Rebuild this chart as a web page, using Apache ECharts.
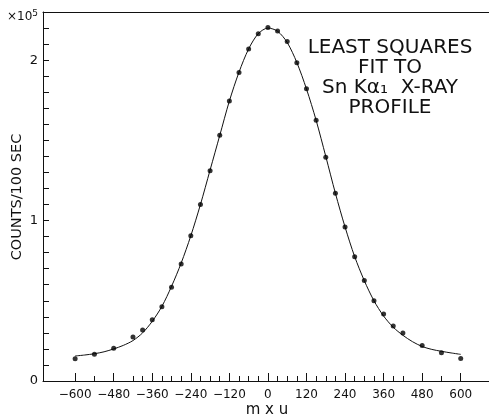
<!DOCTYPE html>
<html>
<head>
<meta charset="utf-8">
<script src="https://cdn.jsdelivr.net/npm/echarts@6/dist/echarts.min.js"></script>
<style>html,body{margin:0;padding:0;background:#fff;}#c{width:489px;height:416px;}</style>
</head>
<body>
<div id="c"></div>
<script>
// Measured points (counts/100 sec, units of 1e5) vs mxu
const pointX = [-600,-540,-480,-420,-390,-360,-330,-300,-270,-240,-210,-180,-150,-120,-90,-60,-30,0,30,60,90,120,150,180,210,240,270,300,330,360,390,420,480,540,600];
const pointY = [0.139,0.166,0.204,0.274,0.318,0.382,0.463,0.584,0.729,0.905,1.100,1.310,1.531,1.745,1.923,2.070,2.164,2.204,2.181,2.116,1.983,1.821,1.626,1.394,1.170,0.960,0.774,0.627,0.500,0.417,0.343,0.299,0.222,0.176,0.141];
// Least squares fit curve
const fitX = [-600,-570,-540,-510,-480,-450,-420,-390,-360,-330,-300,-270,-240,-210,-180,-150,-120,-90,-60,-30,0,30,60,90,120,150,180,210,240,270,300,330,360,390,420,450,480,510,540,570,600];
const fitY = [0.156,0.162,0.170,0.182,0.200,0.222,0.252,0.300,0.372,0.465,0.590,0.735,0.905,1.100,1.315,1.530,1.745,1.925,2.070,2.165,2.200,2.180,2.110,1.985,1.820,1.625,1.400,1.170,0.960,0.775,0.625,0.500,0.405,0.335,0.285,0.245,0.215,0.197,0.185,0.175,0.166];
// Axis ticks / labels
const xLabels = [-600,-480,-360,-240,-120,0,120,240,360,480,600];
const xMinorTicks = [-600,-540,-480,-420,-390,-360,-330,-300,-270,-240,-210,-180,-150,-120,-90,-60,-30,0,30,60,90,120,150,180,210,240,270,300,330,360,390,420,480,540,600];
const yLabels = [0,1,2];

const FONT = 'DejaVu Sans';
const chart = echarts.init(document.getElementById('c'), null, {renderer:'canvas'});
const axisLine = {show:true, onZero:false, lineStyle:{color:'#111', width:1}};
chart.setOption({
  animation:false,
  backgroundColor:'#fff',
  grid:{left:43, right:0, top:12, bottom:35},
  xAxis:[
    {type:'value', min:-700, max:688, position:'bottom',
     axisLine:axisLine, splitLine:{show:false},
     axisTick:{show:true, inside:true, length:8, customValues:xLabels, lineStyle:{color:'#111'}},
     axisLabel:{customValues:xLabels, color:'#111', fontFamily:FONT, fontSize:12, margin:8,
       formatter:v=>String(v).replace('-', '\u2212')}},
    {type:'value', min:-700, max:688, position:'bottom',
     axisLine:{show:false}, splitLine:{show:false}, axisLabel:{show:false},
     axisTick:{show:true, inside:true, length:5, customValues:xMinorTicks, lineStyle:{color:'#111'}}},
    {type:'value', min:-700, max:688, position:'top',
     axisLine:axisLine, splitLine:{show:false}, axisLabel:{show:false}, axisTick:{show:false}}
  ],
  yAxis:{type:'value', min:0, max:2.3, interval:0.1,
    axisLine:axisLine, splitLine:{show:false},
    axisTick:{show:true, inside:true, length:6, lineStyle:{color:'#111'}},
    axisLabel:{customValues:yLabels, color:'#111', fontFamily:FONT, fontSize:13, margin:5}},
  graphic:[
    {type:'text', x:7, y:17, style:{text:'\u00d710{s|5}', fontFamily:FONT, fontSize:12, fill:'#111',
      verticalAlign:'middle', rich:{s:{fontSize:9, verticalAlign:'top', padding:[0,0,7,0], fill:'#111', fontFamily:FONT}}}},
    {type:'text', x:17, y:197, rotation:Math.PI/2,
      style:{text:'COUNTS/100 SEC', fontFamily:FONT, fontSize:14.5, fill:'#111', align:'center', verticalAlign:'middle'}},
    {type:'text', x:267, y:410,
      style:{text:'m x u', fontFamily:FONT, fontSize:15, fill:'#111', align:'center', verticalAlign:'middle'}},
    {type:'text', x:390, y:78,
      style:{text:'LEAST SQUARES\nFIT TO\nSn K\u03b1\u2081  X-RAY\nPROFILE', fontFamily:FONT, fontSize:20, lineHeight:20,
        fill:'#111', align:'center', verticalAlign:'middle'}}
  ],
  series:[
    {type:'line', xAxisIndex:0, data:fitX.map((x,i)=>[x,fitY[i]]), smooth:0.3, showSymbol:false,
     lineStyle:{color:'#111', width:1}, z:2},
    {type:'scatter', xAxisIndex:0, data:pointX.map((x,i)=>[x,pointY[i]]), symbol:'circle', symbolSize:5,
     itemStyle:{color:'#000'}, z:3}
  ]
});
</script>
</body>
</html>
